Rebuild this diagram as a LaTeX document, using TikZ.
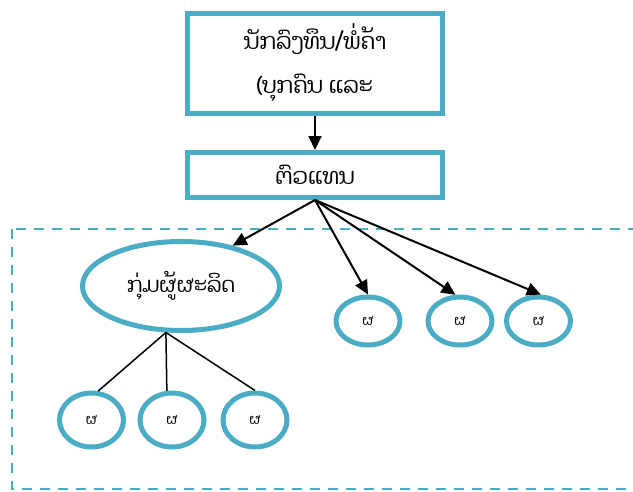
\documentclass[tikz,border=0pt]{standalone}
\usepackage{fontspec}
\newfontfamily\laofont[Script=Lao]{Dhyana}
\usetikzlibrary{shapes.geometric,arrows.meta}
\definecolor{accent}{HTML}{4BACC6}
\begin{document}
\begin{tikzpicture}[x=1pt,y=-1pt,
  boxnode/.style={draw=accent,line width=5pt,rectangle,fill=white,align=center,inner sep=0pt,
    font=\laofont\fontsize{22.5}{44}\selectfont},
  ovalnode/.style={draw=accent,line width=5pt,ellipse,inner sep=0pt,fill=white,
    font=\laofont\fontsize{21}{24}\selectfont},
  smallnode/.style={draw=accent,line width=5pt,ellipse,inner sep=0pt,fill=white,
    font=\laofont\fontsize{14}{16}\selectfont},
  arr/.style={line width=2pt,-{Triangle[length=14pt,width=13pt]}},
  plainline/.style={line width=1.5pt}]
\useasboundingbox (0,0) rectangle (633,491);
\draw[accent,line width=2pt,dash pattern=on 10pt off 8pt] (12,229) rectangle (650,489);
\node[boxnode,minimum width=255pt,minimum height=100pt] (inv) at (315,63)
  {ນັກລົງທຶນ/ພໍ່ຄ້າ\\(ບຸກຄົນ ແລະ};
\node[boxnode,minimum width=255pt,minimum height=45pt] (rep) at (315,175) {\raisebox{-2pt}{ຕົວແທນ}};
\node[ovalnode,minimum width=197pt,minimum height=89pt] (grp) at (181,286) {\raisebox{6pt}{ກຸ່ມຜູ້ຜະລິດ}};
\node[smallnode,minimum width=64pt,minimum height=48pt] (r1) at (368,321) {ຜ};
\node[smallnode,minimum width=64pt,minimum height=48pt] (r2) at (460,321) {ຜ};
\node[smallnode,minimum width=64pt,minimum height=48pt] (r3) at (538.5,321) {ຜ};
\node[smallnode,minimum width=64pt,minimum height=54pt] (b1) at (91.5,420) {ຜ};
\node[smallnode,minimum width=64pt,minimum height=54pt] (b2) at (172,420) {ຜ};
\node[smallnode,minimum width=64pt,minimum height=54pt] (b3) at (255,420) {ຜ};
\draw[arr] (inv.south) -- (rep.north);
\draw[arr] (rep.south) -- (grp.38);
\draw[arr] (rep.south) -- (r1.north);
\draw[arr] (rep.south) -- (r2.100);
\draw[arr] (rep.south) -- (r3.85);
\draw[plainline] (grp.252) -- (b1.77);
\draw[plainline] (grp.252) -- (b2.100);
\draw[plainline] (grp.252) -- (b3.north);
\end{tikzpicture}
\end{document}
